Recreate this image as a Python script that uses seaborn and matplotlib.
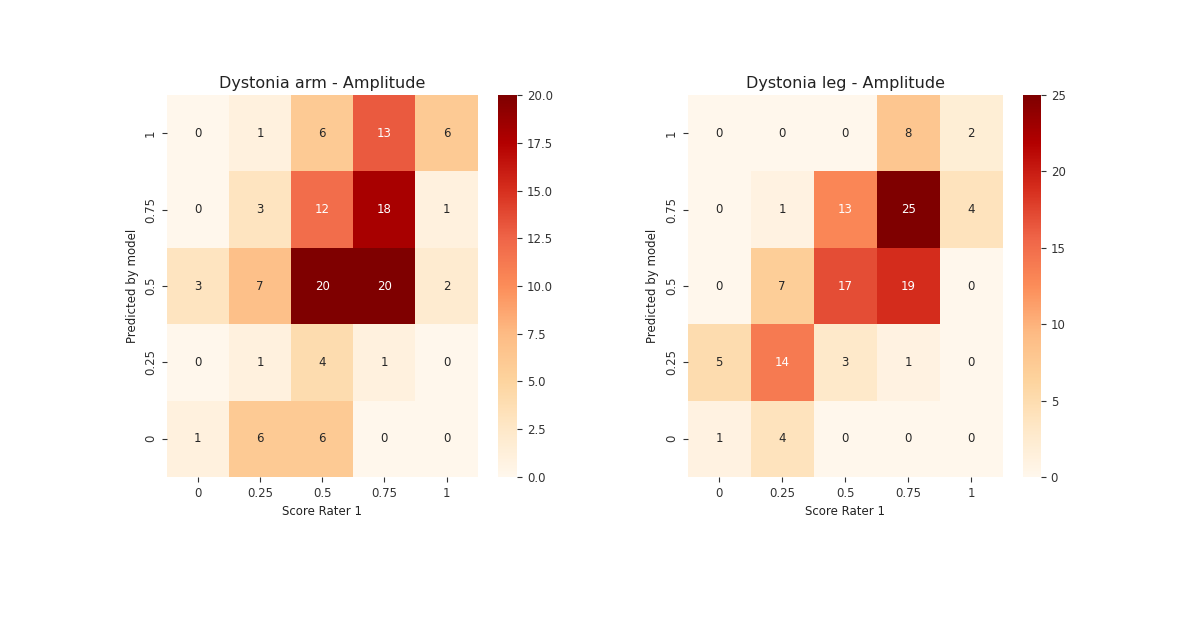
#!/usr/bin/env python3
"""Two annotated confusion heatmaps: dystonia arm / leg amplitude, model vs rater 1."""
import numpy as np
import pandas as pd
import matplotlib
matplotlib.use("Agg")
import matplotlib.pyplot as plt
import seaborn as sns

# Data (rows = predicted by model, top to bottom; cols = score rater 1)
scores = ["0", "0.25", "0.5", "0.75", "1"]
row_labels = ["1", "0.75", "0.5", "0.25", "0"]

arm_counts = [
    [0, 1, 6, 13, 6],
    [0, 3, 12, 18, 1],
    [3, 7, 20, 20, 2],
    [0, 1, 4, 1, 0],
    [1, 6, 6, 0, 0],
]
leg_counts = [
    [0, 0, 0, 8, 2],
    [0, 1, 13, 25, 4],
    [0, 7, 17, 19, 0],
    [5, 14, 3, 1, 0],
    [1, 4, 0, 0, 0],
]
titles = ["Dystonia arm - Amplitude", "Dystonia leg - Amplitude"]

plt.rcParams.update({
    "font.family": ["DejaVu Sans"],
    "xtick.labelsize": 8.5,
    "ytick.labelsize": 8.5,
    "axes.labelsize": 8.5,
    "axes.titlesize": 11.5,
    "text.color": "#222222",
    "xtick.color": "#333333",
    "ytick.color": "#333333",
    "axes.labelcolor": "#222222",
})

fig = plt.figure(figsize=(12, 6.3), dpi=100)
fig.patch.set_facecolor("white")

layout = [
    ([0.139, 0.243, 0.259, 0.606], [0.415, 0.243, 0.016, 0.606]),
    ([0.573, 0.243, 0.2625, 0.606], [0.8525, 0.243, 0.015, 0.606]),
]

for counts, title, (hm_pos, cb_pos) in zip([arm_counts, leg_counts], titles, layout):
    df = pd.DataFrame(counts, index=row_labels, columns=scores)
    ax = fig.add_axes(hm_pos)
    cax = fig.add_axes(cb_pos)
    sns.heatmap(df, ax=ax, cbar_ax=cax, cmap="OrRd", annot=True, fmt="d",
                annot_kws={"fontsize": 8.5})
    ax.set_title(title, pad=5)
    ax.set_xlabel("Score Rater 1")
    ax.set_ylabel("Predicted by model")
    ax.tick_params(axis="y", rotation=90)
    for lbl in ax.get_yticklabels():
        lbl.set_va("center")
    ax.tick_params(bottom=True, left=True, length=3.5)
    cax.tick_params(right=True, labelsize=8.5, length=3.5)

fig.savefig("out.png", dpi=100, facecolor="white")
plt.close(fig)
